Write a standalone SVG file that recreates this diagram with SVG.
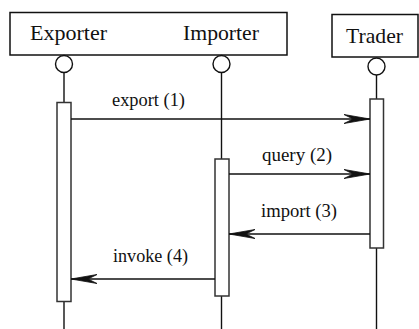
<svg xmlns="http://www.w3.org/2000/svg" width="419" height="329" viewBox="0 0 419 329">
<style>
.box{fill:#fff;stroke:#111;stroke-width:1.5}
.life{stroke:#111;stroke-width:1.4;fill:none}
.circ{fill:#fff;stroke:#111;stroke-width:1.4}
.bar{fill:#fff;stroke:#333;stroke-width:1.5}
.msg{stroke:#111;stroke-width:1.4;fill:none;marker-end:url(#ah)}
.hd{font-family:"Liberation Serif","Times New Roman",serif;font-size:21px;fill:#111}
.lb{font-family:"Liberation Serif","Times New Roman",serif;font-size:18px;fill:#111}
</style>
<defs>
<marker id="ah" markerUnits="userSpaceOnUse" markerWidth="28" markerHeight="12" refX="26" refY="6" orient="auto" viewBox="0 0 28 12">
<path d="M26,6 L0,1.5 L9,6 L0,10.5 Z" fill="#111" stroke="#111" stroke-width="0.8" stroke-linejoin="miter"/>
</marker>
</defs>
<rect x="0" y="0" width="419" height="329" fill="#fff"/>
<g id="group-exporter-importer">
<rect class="box" x="10" y="12.5" width="277" height="42.5"/>
</g>
<g id="exporter">
<text class="hd" x="30" y="40" textLength="77" lengthAdjust="spacingAndGlyphs">Exporter</text>
<line class="life" x1="64" y1="73" x2="64" y2="329"/>
<circle class="circ" cx="64" cy="64" r="8.5"/>
<rect class="bar" x="57" y="102.5" width="14" height="199"/>
</g>
<g id="importer">
<text class="hd" x="183" y="40" textLength="76" lengthAdjust="spacingAndGlyphs">Importer</text>
<line class="life" x1="221.5" y1="73" x2="221.5" y2="329"/>
<circle class="circ" cx="221.5" cy="64" r="8.5"/>
<rect class="bar" x="215" y="159" width="14" height="137"/>
</g>
<g id="trader">
<rect class="box" x="332" y="14.5" width="86" height="42.5"/>
<text class="hd" x="346" y="43" textLength="57" lengthAdjust="spacingAndGlyphs">Trader</text>
<line class="life" x1="376.5" y1="75" x2="376.5" y2="329"/>
<circle class="circ" cx="376.5" cy="66.5" r="8.5"/>
<rect class="bar" x="370" y="99" width="13.5" height="149"/>
</g>
<g id="connectors">
<line class="msg" x1="71" y1="119" x2="370" y2="119"/>
<text class="lb" x="112" y="106" textLength="73" lengthAdjust="spacingAndGlyphs">export (1)</text>
<line class="msg" x1="229" y1="174" x2="370" y2="174"/>
<text class="lb" x="262" y="161" textLength="70" lengthAdjust="spacingAndGlyphs">query (2)</text>
<line class="msg" x1="370" y1="234" x2="229" y2="234"/>
<text class="lb" x="261" y="217" textLength="76" lengthAdjust="spacingAndGlyphs">import (3)</text>
<line class="msg" x1="215" y1="279" x2="71" y2="279"/>
<text class="lb" x="113" y="262" textLength="75" lengthAdjust="spacingAndGlyphs">invoke (4)</text>
</g>
</svg>
